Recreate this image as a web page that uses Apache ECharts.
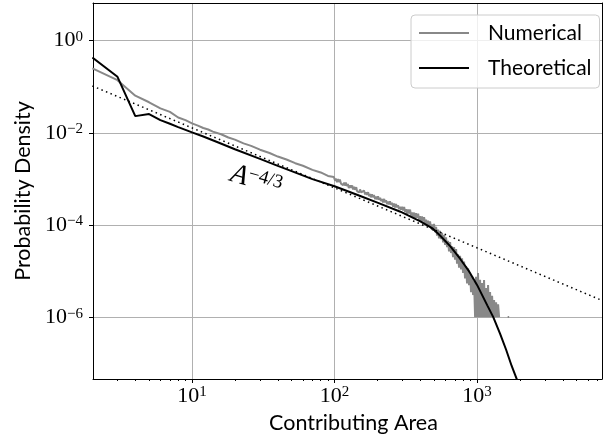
<!DOCTYPE html>
<html>
<head>
<meta charset="utf-8">
<title>Contributing area distribution</title>
<script src="https://cdn.jsdelivr.net/npm/echarts@6/dist/echarts.min.js"></script>
<style>
    html, body { margin: 0; padding: 0; background: #fff; }
    #main { width: 603px; height: 440px; }
</style>
</head>
<body>
<div id="main"></div>
<script>
// numerical pdf (grey)
var numArea = [2, 3, 4, 5, 6, 7, 8, 9, 10, 11, 12, 13, 14, 16, 18, 20, 23, 26, 30, 35, 40, 46, 53, 60, 70, 80, 90,
    99, 101, 102, 104, 106, 108, 109, 111, 113, 115,
    117, 119, 120, 122, 124, 126, 129, 131, 133, 135,
    137, 139, 142, 144, 146, 149, 151, 154, 156, 159,
    161, 164, 166, 169, 172, 175, 178, 180, 183, 186,
    189, 193, 196, 199, 202, 205, 209, 212, 216, 219,
    223, 226, 230, 234, 238, 241, 245, 249, 253, 258,
    262, 266, 270, 275, 279, 284, 288, 293, 298, 303,
    308, 313, 318, 323, 328, 333, 339, 344, 350, 356,
    362, 367, 373, 380, 386, 392, 398, 405, 411, 418,
    425, 432, 439, 446, 453, 461, 468, 476, 484, 491,
    499, 508, 516, 524, 533, 541, 550, 559, 568, 578,
    587, 597, 606, 616, 626, 636, 647, 657, 668, 679,
    690, 701, 713, 724, 736, 748, 760, 773, 785, 798,
    811, 824, 838, 851, 865, 879, 894, 908, 923, 938,
    953, 969, 984, 1000, 1016, 1033, 1050, 1067, 1084, 1102, 1120, 1138, 1157, 1176, 1195, 1214,
    1234, 1254, 1275, 1296, 1317, 1338, 1360, 1382, 1405, 1428, 1500, 1640, 1680];
var numDensity = [0.25, 0.139, 0.064, 0.046, 0.0338, 0.0285, 0.0215, 0.0188, 0.016, 0.0143, 0.0127, 0.0118, 0.0106,
    0.0093, 0.0079, 0.0071, 0.0059, 0.0052, 0.0043, 0.00365, 0.00305, 0.00263, 0.00219, 0.00193, 0.00157, 0.00138, 0.00116,
    1.094e-3, 9.18e-4, 1.015e-3, 8.52e-4, 9.90e-4, 8.52e-4, 9.66e-4, 7.91e-4, 8.52e-4, 7.33e-4,
    8.31e-4, 7.16e-4, 8.33e-4, 7.00e-4, 7.74e-4, 6.35e-4, 7.20e-4, 6.36e-4, 7.21e-4, 5.91e-4,
    6.71e-4, 5.80e-4, 6.59e-4, 5.42e-4, 5.87e-4, 5.07e-4, 5.91e-4, 5.11e-4, 5.53e-4, 4.66e-4,
    5.57e-4, 4.58e-4, 5.09e-4, 4.51e-4, 5.14e-4, 4.22e-4, 4.69e-4, 3.96e-4, 4.62e-4, 3.99e-4,
    4.43e-4, 3.64e-4, 4.14e-4, 3.58e-4, 4.18e-4, 3.52e-4, 3.91e-4, 3.29e-4, 3.65e-4, 3.08e-4,
    3.68e-4, 3.10e-4, 3.44e-4, 2.83e-4, 3.22e-4, 2.78e-4, 3.25e-4, 2.74e-4, 3.04e-4, 2.50e-4,
    2.91e-4, 2.39e-4, 2.85e-4, 2.40e-4, 2.66e-4, 2.19e-4, 2.48e-4, 2.14e-4, 2.49e-4, 2.05e-4,
    2.45e-4, 1.90e-4, 2.21e-4, 1.72e-4, 2.16e-4, 1.77e-4, 2.16e-4, 1.60e-4, 1.86e-4, 1.48e-4,
    1.86e-4, 1.41e-4, 1.80e-4, 1.44e-4, 1.75e-4, 1.29e-4, 1.54e-4, 1.19e-4, 1.53e-4, 1.19e-4,
    1.48e-4, 1.08e-4, 1.30e-4, 9.75e-5, 1.23e-4, 9.46e-5, 1.20e-4, 8.31e-5, 1.03e-4, 7.48e-5,
    1.05e-4, 6.96e-5, 9.10e-5, 5.90e-5, 7.91e-5, 5.13e-5, 7.41e-5, 4.93e-5, 6.77e-5, 4.18e-5,
    6.04e-5, 3.69e-5, 5.41e-5, 3.31e-5, 4.50e-5, 2.68e-5, 4.24e-5, 2.46e-5, 3.43e-5, 2.00e-5,
    3.32e-5, 1.77e-5, 2.99e-5, 1.44e-5, 2.31e-5, 1.18e-5, 2.14e-5, 1.09e-5, 1.88e-5, 9.07e-6,
    1.61e-5, 6.89e-6, 1.26e-5, 5.40e-6, 1.14e-5, 4.91e-6, 8.52e-6, 3.48e-6, 7.75e-6, 3.01e-6,
    6.07e-6, 1e-6, 7.5e-6, 1e-6, 9.0e-6, 1e-6, 6.5e-6, 1e-6, 5.5e-6, 1e-6, 6.4e-6, 1e-6, 4.3e-6, 1e-6, 5.0e-6, 1e-6,
    3.5e-6, 1e-6, 2.9e-6, 1e-6, 2.35e-6, 1e-6, 2.1e-6, 1e-6, 1.9e-6, 1e-6, null, 1e-6, 1e-6];

// theoretical pdf (black)
var theoArea = [2, 3, 4, 5, 6, 7, 8, 9, 10, 12, 15, 20, 30, 40, 50, 70, 100, 150, 200, 290, 400, 490, 550, 650,
    760, 880, 1000, 1180, 1300, 1450, 1600, 1750, 1900, 2100];
var theoDensity = [0.43, 0.164, 0.023, 0.0255, 0.0188, 0.0157, 0.0133, 0.0116, 0.0102, 0.0083, 0.0063, 0.0044,
    0.00272, 0.00192, 0.00147, 0.00099, 0.00069, 0.00043, 0.000305, 0.000194, 0.00012, 0.000083, 0.000059, 0.0000342,
    0.0000185, 0.0000098, 0.000005, 0.0000018, 0.000001, 4.4e-7, 1.96e-7, 8.7e-8, 4.5e-8, 1.3e-8];

// A^(-4/3) guide (dotted)
var fitArea = [2, 7530];
var fitDensity = [0.104, 2.3e-6];

var xMajorTicks = [10, 100, 1000];
var xMinorTicks = [3, 4, 5, 6, 7, 8, 9, 20, 30, 40, 50, 60, 70, 80, 90, 200, 300, 400, 500, 600, 700, 800, 900,
    2000, 3000, 4000, 5000, 6000, 7000];
var yTicks = [1, 1e-2, 1e-4, 1e-6];

function pairs(xs, ys) {
    return xs.map(function (x, i) {
        return [x, ys[i] === null ? '-' : ys[i]];
    });
}

function powLabel(v) {
    var e = Math.round(Math.log10(v));
    return '{b|10}{s|' + (e < 0 ? '\u2212' + (-e) : e) + '}';
}

var serif = 'Liberation Serif';
var sans = 'Lato';
var labelRich = {
    b: { fontFamily: serif, fontSize: 22, lineHeight: 22, color: '#000' },
    s: { fontFamily: serif, fontSize: 15, lineHeight: 8, verticalAlign: 'top', color: '#000' }
};

var chart = echarts.init(document.getElementById('main'), null, { renderer: 'canvas' });

var option = {
    animation: false,
    backgroundColor: '#fff',
    grid: { left: 93, right: 1, top: 3, bottom: 61 },
    legend: {
        data: ['Numerical', 'Theoretical'],
        orient: 'vertical',
        left: 411,
        top: 15,
        icon: 'rect',
        itemWidth: 50,
        itemHeight: 2,
        itemGap: 13,
        padding: [7, 8, 9, 8],
        selectedMode: false,
        backgroundColor: 'rgba(255,255,255,0.8)',
        borderColor: '#cccccc',
        borderWidth: 1,
        borderRadius: 4,
        textStyle: { fontFamily: sans, fontSize: 21, lineHeight: 22, color: '#000', padding: [0, 0, 0, 14] }
    },
    xAxis: [{
        type: 'log',
        logBase: 10,
        min: 2.02,
        max: 7530,
        position: 'bottom',
        name: 'Contributing Area',
        nameLocation: 'middle',
        nameGap: 33,
        nameTextStyle: { fontFamily: sans, fontSize: 21.5, color: '#000', padding: [0, 0, 0, 12] },
        axisLine: { show: true, onZero: false, lineStyle: { color: '#000', width: 1 } },
        axisTick: { show: true, length: 4, customValues: xMajorTicks, lineStyle: { color: '#000' } },
        axisLabel: { customValues: xMajorTicks, formatter: powLabel, rich: labelRich, margin: 6 },
        splitLine: { show: true, lineStyle: { color: '#b0b0b0', width: 1 } }
    }, {
        // minor ticks
        type: 'log',
        min: 2.02,
        max: 7530,
        position: 'bottom',
        axisLine: { show: false, onZero: false },
        axisTick: { show: true, length: 2, customValues: xMinorTicks, lineStyle: { color: '#000' } },
        axisLabel: { show: false },
        splitLine: { show: false }
    }, {
        // top frame
        type: 'log',
        min: 2.02,
        max: 7530,
        position: 'top',
        axisLine: { show: true, onZero: false, lineStyle: { color: '#000', width: 1 } },
        axisTick: { show: false },
        axisLabel: { show: false },
        splitLine: { show: false }
    }],
    yAxis: [{
        type: 'log',
        logBase: 10,
        min: 4.54e-8,
        max: 6.56,
        position: 'left',
        name: 'Probability Density',
        nameLocation: 'middle',
        nameGap: 55,
        nameTextStyle: { fontFamily: sans, fontSize: 21.5, color: '#000' },
        axisLine: { show: true, onZero: false, lineStyle: { color: '#000', width: 1 } },
        axisTick: { show: true, length: 4, customValues: yTicks, lineStyle: { color: '#000' } },
        axisLabel: { customValues: yTicks, formatter: powLabel, rich: labelRich, margin: 10 },
        splitLine: { show: true, lineStyle: { color: '#b0b0b0', width: 1 } }
    }, {
        // right frame
        type: 'log',
        min: 4.54e-8,
        max: 6.56,
        position: 'right',
        axisLine: { show: true, onZero: false, lineStyle: { color: '#000', width: 1 } },
        axisTick: { show: false },
        axisLabel: { show: false },
        splitLine: { show: false }
    }],
    series: [{
        name: 'Numerical',
        type: 'line',
        data: pairs(numArea, numDensity),
        symbol: 'none',
        connectNulls: false,
        lineStyle: { color: '#888888', width: 2 },
        itemStyle: { color: '#888888' },
        z: 2
    }, {
        name: 'Theoretical',
        type: 'line',
        data: pairs(theoArea, theoDensity),
        symbol: 'none',
        lineStyle: { color: '#000', width: 2 },
        itemStyle: { color: '#000' },
        z: 3
    }, {
        name: 'fit',
        type: 'line',
        data: pairs(fitArea, fitDensity),
        symbol: 'none',
        lineStyle: { color: '#000', width: 1.5, type: [1.5, 3.4] },
        z: 4
    }],
    graphic: [{
        type: 'text',
        x: 235,
        y: 160,
        rotation: -0.28,
        style: {
            text: '{a|A}{s|\u22124/3}',
            rich: {
                a: { fontFamily: serif, fontStyle: 'italic', fontSize: 28, lineHeight: 28, fill: '#000' },
                s: { fontFamily: serif, fontSize: 19, lineHeight: 16, verticalAlign: 'top', fill: '#000' }
            }
        }
    }]
};

chart.setOption(option);
</script>
</body>
</html>
